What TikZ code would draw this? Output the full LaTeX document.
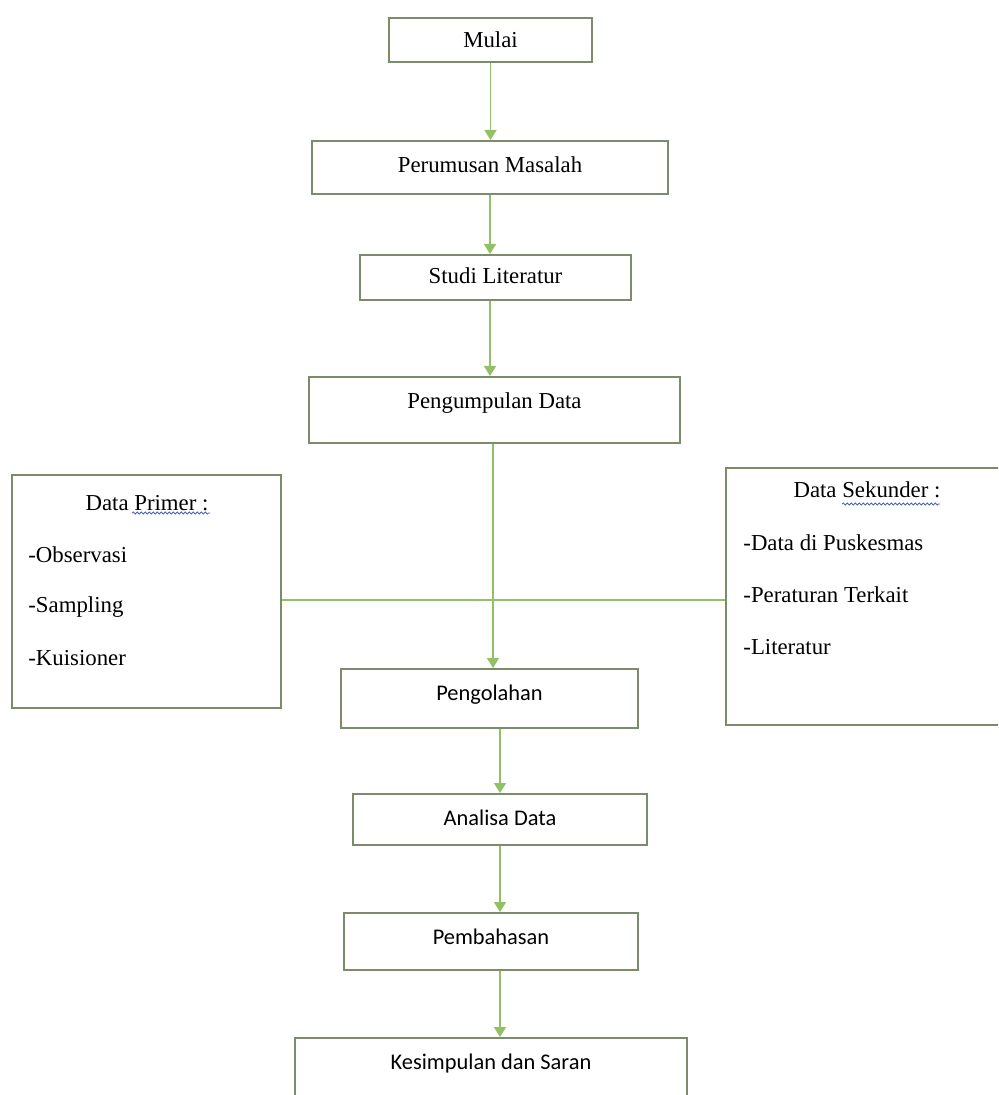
\documentclass[tikz,border=0pt]{standalone}
\usepackage{fontspec}
\setmainfont{Liberation Serif}
\newfontfamily\calibrifont{Carlito}
\usetikzlibrary{arrows.meta,decorations.pathmorphing}
\definecolor{boxline}{RGB}{122,140,106}
\definecolor{flowgreen}{RGB}{146,192,100}
\definecolor{spellblue}{RGB}{70,100,190}

\begin{document}
\begin{tikzpicture}[x=0.5pt, y=-0.5pt,
  serif/.style={font=\fontsize{11.4}{13}\selectfont},
  sans/.style={font=\calibrifont\fontsize{11.2}{13}\selectfont},
  flowbox/.style={draw=boxline, line width=1pt, fill=white, inner sep=0pt, text height=8pt},
  item/.style={serif, anchor=west, inner sep=0pt},
  flow/.style={draw=flowgreen, line width=0.75pt, -{Triangle[width=6pt, length=5pt]}},
  link/.style={draw=flowgreen, line width=0.75pt},
  spell/.style={draw=spellblue, line width=0.4pt, decorate,
    decoration={snake, amplitude=0.5pt, segment length=2pt}}]
  \useasboundingbox (0,0) rectangle (998,1095);
  \clip (0,0) rectangle (998,1095);
  \fill[white] (0,0) rectangle (998,1095);

  \node[flowbox, serif, minimum width=101.5pt, minimum height=22pt, text depth=0pt] (mulai) at (490.5,40) {Mulai};
  \node[flowbox, serif, minimum width=178pt, minimum height=26.5pt, text depth=2.5pt] (rumusan) at (490,167.5) {Perumusan Masalah};
  \node[flowbox, serif, minimum width=135.5pt, minimum height=22.5pt, text depth=1.5pt] (studi) at (495.5,277.5) {Studi Literatur};
  \node[flowbox, serif, minimum width=185.5pt, minimum height=33pt, text depth=9pt] (kumpul) at (494.5,410) {Pengumpulan Data};

  \node[flowbox, minimum width=134.5pt, minimum height=116.5pt] (primer) at (146.5,591.5) {};
  \node[serif, inner sep=0pt] (primertitle) at (147,503) {Data Primer :};
  \node[item] (observasi) at (28,555) {-Observasi};
  \node[item] (sampling) at (28,607) {-Sampling};
  \node[item] (kuisioner) at (28,658) {-Kuisioner};
  \draw[spell] (132,513) -- (210,513);

  \node[flowbox, minimum width=139.5pt, minimum height=128.5pt] (sekunder) at (865.5,596.5) {};
  \node[serif, inner sep=0pt] (sekundertitle) at (867,490) {Data Sekunder :};
  \node[item] (puskesmas) at (743,543) {-Data di Puskesmas};
  \node[item] (peraturan) at (743,595) {-Peraturan Terkait};
  \node[item] (literatur) at (743,647) {-Literatur};
  \draw[spell] (842,504) -- (940,504);

  \node[flowbox, sans, minimum width=148.5pt, minimum height=29.5pt, text depth=6.5pt] (olah) at (489.5,698.5) {Pengolahan};
  \node[flowbox, sans, minimum width=147pt, minimum height=25.5pt, text depth=2.5pt] (analisa) at (500,819.5) {Analisa Data};
  \node[flowbox, sans, minimum width=147pt, minimum height=28.5pt, text depth=5.5pt] (bahas) at (491,941.5) {Pembahasan};
  \node[flowbox, sans, minimum width=196pt, minimum height=31pt, text depth=8pt] (simpulan) at (491,1069) {Kesimpulan dan Saran};

  \coordinate (junction) at (493,600);
  \draw[flow] (mulai.south) -- (mulai.south |- rumusan.north);
  \draw[flow] (rumusan.south) -- (rumusan.south |- studi.north);
  \draw[flow] (studi.south -| rumusan.south) -- (rumusan.south |- kumpul.north);
  \draw[link] (primer.east |- junction) -- (sekunder.west |- junction);
  \draw[flow] (kumpul.south -| junction) -- (junction |- olah.north);
  \draw[flow] (olah.south -| analisa.south) -- (analisa.north);
  \draw[flow] (analisa.south) -- (analisa.south |- bahas.north);
  \draw[flow] (bahas.south -| analisa.south) -- (analisa.south |- simpulan.north);
\end{tikzpicture}
\end{document}
